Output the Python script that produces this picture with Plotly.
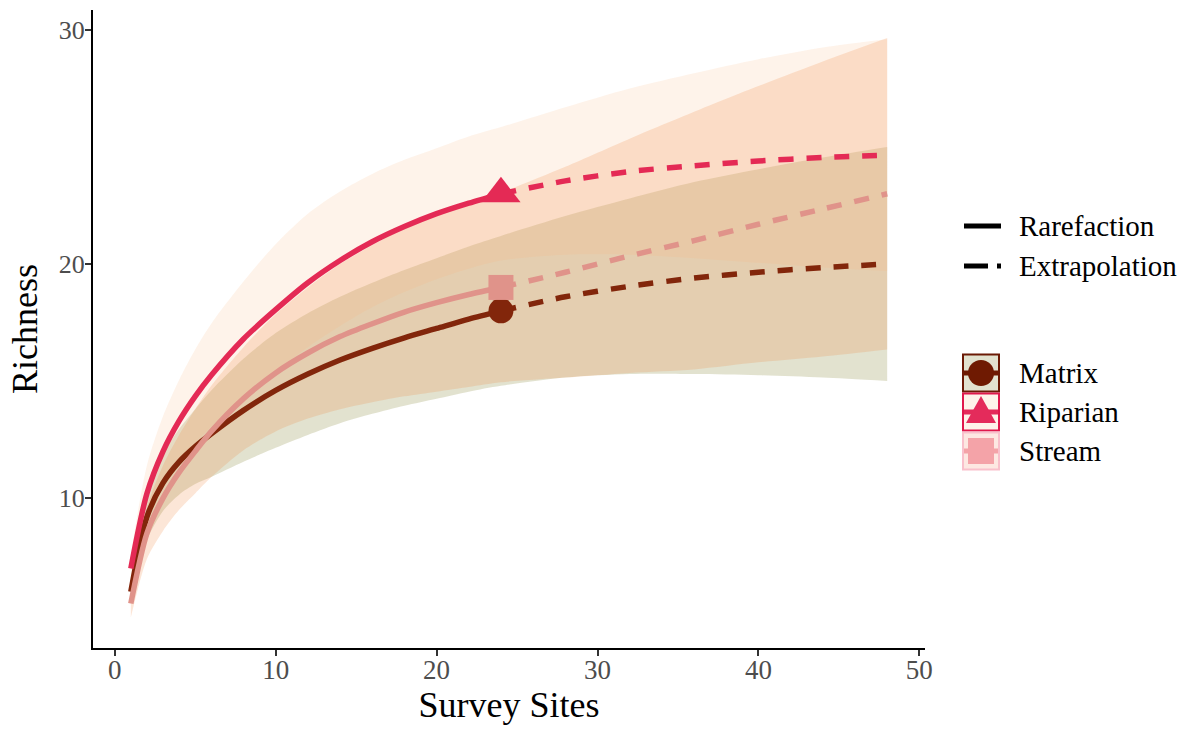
import plotly.graph_objects as go

# ---- data ----
sites = [1, 2, 3, 4, 5, 6, 8, 10, 12, 14, 16, 18, 20, 22, 24, 28, 32, 36, 40, 44, 48]
observed_idx = 14  # sites[14] == 24 observed sampling units

matrix_est = [6.0, 9.2, 10.65, 11.55, 12.2, 12.75, 13.75, 14.6, 15.3, 15.9, 16.4, 16.85, 17.25, 17.65, 18.0,
              18.6, 19.05, 19.4, 19.65, 19.85, 20.0]
matrix_lo = [5.5, 8.2, 9.45, 10.15, 10.6, 10.9, 11.55, 12.15, 12.7, 13.2, 13.6, 13.95, 14.25, 14.55, 14.8,
             15.15, 15.3, 15.3, 15.25, 15.15, 15.0]
matrix_hi = [6.5, 10.2, 11.85, 12.95, 13.8, 14.6, 15.95, 17.05, 17.9, 18.6, 19.2, 19.75, 20.25, 20.75, 21.2,
             22.05, 22.8, 23.5, 24.05, 24.55, 25.0]

riparian_est = [7.0, 10.2, 12.0, 13.3, 14.35, 15.25, 16.8, 18.05, 19.2, 20.15, 20.95, 21.6, 22.15, 22.6, 23.0,
                23.55, 23.95, 24.2, 24.4, 24.55, 24.65]
riparian_lo = [6.4, 9.0, 10.5, 11.55, 12.35, 13.05, 14.35, 15.4, 16.45, 17.35, 18.15, 18.8, 19.35, 19.8, 20.15,
               20.4, 20.4, 20.25, 20.05, 19.85, 19.7]
riparian_hi = [7.6, 11.4, 13.5, 15.05, 16.35, 17.45, 19.25, 20.85, 22.15, 23.1, 23.85, 24.45, 24.95, 25.45, 25.85,
               26.7, 27.5, 28.15, 28.75, 29.25, 29.6]

stream_est = [5.5, 8.5, 10.0, 11.1, 12.0, 12.85, 14.25, 15.35, 16.2, 16.9, 17.45, 17.95, 18.35, 18.7, 19.0,
              19.65, 20.35, 21.0, 21.7, 22.35, 23.0]
stream_lo = [4.9, 7.4, 8.6, 9.5, 10.2, 10.9, 12.05, 12.85, 13.4, 13.8, 14.1, 14.35, 14.55, 14.75, 14.95,
             15.15, 15.35, 15.5, 15.8, 16.05, 16.35]
stream_hi = [6.1, 9.6, 11.4, 12.7, 13.8, 14.8, 16.45, 17.85, 19.0, 20.0, 20.8, 21.55, 22.15, 22.65, 23.05,
             24.15, 25.35, 26.5, 27.6, 28.65, 29.65]

groups = ["Matrix", "Riparian", "Stream"]
methods = ["Rarefaction", "Extrapolation"]
x_ticks = [0, 10, 20, 30, 40, 50]
y_ticks = [10, 20, 30]

# ---- styles ----
FONT = "Liberation Serif"
line_col = {"Matrix": "#82260B", "Riparian": "#E42A55", "Stream": "#E0938A"}
band_col = {"Matrix": "rgba(110,110,15,0.2)", "Riparian": "rgba(250,195,150,0.2)",
            "Stream": "rgba(239,128,54,0.2)"}
symbols = {"Matrix": ("circle", 25), "Riparian": ("triangle-up", 34), "Stream": ("square", 25)}
series = {"Matrix": (matrix_est, matrix_lo, matrix_hi),
          "Riparian": (riparian_est, riparian_lo, riparian_hi),
          "Stream": (stream_est, stream_lo, stream_hi)}
SMOOTH = dict(shape="spline", smoothing=0.8)

fig = go.Figure()

# confidence bands (lower bound, then upper bound filled down to it)
for g in groups:
    est, lo, hi = series[g]
    fig.add_trace(go.Scatter(x=sites, y=lo, mode="lines", line=dict(width=0, **SMOOTH),
                             hoverinfo="skip", showlegend=False))
    fig.add_trace(go.Scatter(x=sites, y=hi, mode="lines", line=dict(width=0, **SMOOTH),
                             fill="tonexty", fillcolor=band_col[g], hoverinfo="skip", showlegend=False))

# rarefaction / extrapolation lines
for g in groups:
    est, lo, hi = series[g]
    fig.add_trace(go.Scatter(
        x=sites[:observed_idx + 1], y=est[:observed_idx + 1], mode="lines",
        line=dict(color=line_col[g], width=5.5, **SMOOTH),
        name=g + " " + methods[0], showlegend=False))
    fig.add_trace(go.Scatter(
        x=sites[observed_idx:], y=est[observed_idx:], mode="lines",
        line=dict(color=line_col[g], width=5.5, dash="15px,13px", **SMOOTH),
        name=g + " " + methods[1], showlegend=False))

# observed points
for g in groups:
    est, lo, hi = series[g]
    sym, sz = symbols[g]
    fig.add_trace(go.Scatter(
        x=[sites[observed_idx]], y=[est[observed_idx]], mode="markers",
        marker=dict(symbol=sym, size=sz, color=line_col[g], line=dict(width=0)),
        name=g, showlegend=False))

# ---- manual legend (paper coordinates from pixel positions) ----
L, R, T, B = 93, 925, 10, 648


def px(x):
    return (x - L) / (R - L)


def py(y):
    return (B - y) / (B - T)


shapes = []
annotations = []
# line type keys
shapes.append(dict(type="line", xref="paper", yref="paper", x0=px(964), x1=px(1001), y0=py(226), y1=py(226),
                   line=dict(color="black", width=5)))
shapes.append(dict(type="line", xref="paper", yref="paper", x0=px(964), x1=px(988), y0=py(266), y1=py(266),
                   line=dict(color="black", width=5)))
shapes.append(dict(type="line", xref="paper", yref="paper", x0=px(997), x1=px(1001), y0=py(266), y1=py(266),
                   line=dict(color="black", width=5)))
for label, yc in zip(methods, [226, 266]):
    annotations.append(dict(text=label, xref="paper", yref="paper", x=px(1017), y=py(yc), xanchor="left",
                            yanchor="middle", showarrow=False, font=dict(family=FONT, size=29, color="black")))

key_fill = {"Matrix": "#E2E2CF", "Riparian": "#FEF3EA", "Stream": "#FDE8E2"}
key_border = {"Matrix": "#6B1A05", "Riparian": "#E0184C", "Stream": "#F9C0CB"}
key_mark = {"Matrix": "#6F1A02", "Riparian": "#E42B5B", "Stream": "#F4A3A8"}
key_centers = {"Matrix": 373, "Riparian": 412, "Stream": 451}
for g in groups:
    yc = key_centers[g]
    shapes.append(dict(type="rect", xref="paper", yref="paper", x0=px(963), x1=px(999), y0=py(yc - 18.5),
                       y1=py(yc + 18.5), fillcolor=key_fill[g], line=dict(color=key_border[g], width=2)))
    shapes.append(dict(type="line", xref="paper", yref="paper", x0=px(964), x1=px(998), y0=py(yc), y1=py(yc),
                       line=dict(color=key_mark[g], width=5)))
    if g == "Matrix":
        shapes.append(dict(type="circle", xref="paper", yref="paper", x0=px(968), x1=px(994), y0=py(yc - 13),
                           y1=py(yc + 13), fillcolor=key_mark[g], line=dict(width=0)))
    elif g == "Riparian":
        path = "M {} {} L {} {} L {} {} Z".format(px(981), py(yc - 16), px(966), py(yc + 11), px(996), py(yc + 11))
        shapes.append(dict(type="path", xref="paper", yref="paper", path=path, fillcolor=key_mark[g],
                           line=dict(width=0)))
    else:
        shapes.append(dict(type="rect", xref="paper", yref="paper", x0=px(968), x1=px(994), y0=py(yc - 13),
                           y1=py(yc + 13), fillcolor=key_mark[g], line=dict(width=0)))
    annotations.append(dict(text=g, xref="paper", yref="paper", x=px(1017), y=py(yc), xanchor="left",
                            yanchor="middle", showarrow=False, font=dict(family=FONT, size=29, color="black")))

fig.update_layout(
    width=1190, height=729,
    margin=dict(l=L, r=1190 - R, t=T, b=729 - B, autoexpand=False),
    paper_bgcolor="white", plot_bgcolor="white",
    shapes=shapes, annotations=annotations,
    showlegend=False,
    font=dict(family=FONT),
)
fig.update_xaxes(
    range=[-1.35, 50.35], tickvals=x_ticks, ticktext=[str(v) for v in x_ticks], automargin=False,
    showline=True, linecolor="black", linewidth=2, ticks="outside", ticklen=6, tickwidth=1.5,
    tickcolor="#333333", showgrid=False, zeroline=False, ticklabelstandoff=-9,
    tickfont=dict(family=FONT, size=27, color="#4D4D4D"),
    title=dict(text="Survey Sites", font=dict(family=FONT, size=36, color="black"), standoff=4),
)
fig.update_yaxes(
    range=[3.6, 30.85], tickvals=y_ticks, ticktext=[str(v) for v in y_ticks], automargin=False,
    showline=True, linecolor="black", linewidth=2, ticks="outside", ticklen=6, tickwidth=1.5,
    tickcolor="#333333", showgrid=False, zeroline=False, ticklabelstandoff=-5,
    tickfont=dict(family=FONT, size=26, color="#4D4D4D"),
    title=dict(text="Richness", font=dict(family=FONT, size=36, color="black"), standoff=10),
)

fig.write_html("out.html", config={"displayModeBar": False},
               post_script="document.body.style.margin='0px';")
